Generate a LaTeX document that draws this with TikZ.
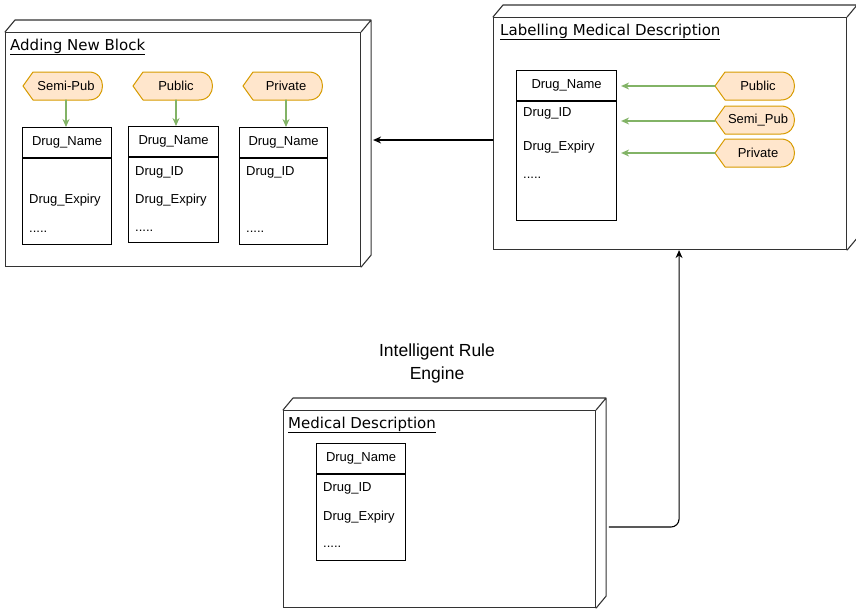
\documentclass[tikz,border=0pt]{standalone}
\usepackage{fontspec}
\usetikzlibrary{arrows.meta}
\setmainfont{Liberation Sans}
\newfontfamily\titlefont{DejaVu Sans}
\definecolor{tagfill}{HTML}{FFE6CC}
\definecolor{tagdraw}{HTML}{D79B00}
\definecolor{arrgreen}{HTML}{82B366}
\definecolor{boxgray}{HTML}{333333}
\tikzset{
  cubebox/.style={draw=boxgray,line width=1.1pt,anchor=north west,inner sep=0pt},
  boxline/.style={draw=boxgray,line width=1.1pt,line join=round},
  title/.style={anchor=west,inner sep=0pt,font=\titlefont\fontsize{15}{18}\selectfont},
  hdr/.style={draw,line width=1.1pt,anchor=north west,minimum height=30,inner sep=0pt,font=\fontsize{13}{15}\selectfont},
  tbody/.style={draw,line width=1.1pt,anchor=north west,inner sep=0pt},
  field/.style={anchor=west,inner sep=0pt,font=\fontsize{13}{15}\selectfont},
  tagline/.style={fill=tagfill,draw=tagdraw,line width=1pt,line join=round},
  tagtext/.style={inner sep=0pt,xshift=3,font=\fontsize{13}{15}\selectfont},
  greenarrow/.style={->,draw=arrgreen,line width=1.2pt},
  blackarrow/.style={->,draw=black,line width=1.1pt}
}
% 3d look of a box node
\newcommand\cubeside[1]{\draw[boxline] (#1.north west) -- ++(10,-12) -| ([shift={(10,-12)}]#1.south east) -- (#1.south east) (#1.north east) -- ++(10,-12);}
% name, centre, text
\newcommand\tagshape[3]{%
  \filldraw[tagline,shift={(#2)}] (-40,0) -- ++(10,-14) -- ++(56,0) .. controls +(18,0) and +(18,0) .. ++(0,28) -- ++(-56,0) -- cycle;
  \node[tagtext] (#1) at (#2) {#3};}
\begin{document}
\begin{tikzpicture}[x=1pt,y=-1pt,>={Stealth[length=8pt,width=7pt]},line cap=round]
\useasboundingbox (0,0) rectangle (856,610);

% adding new block
\node[cubebox,minimum width=355,minimum height=234] (addblock) at (5,32) {};
\cubeside{addblock}
\node[title] (addtitle) at (10,47) {\underline{Adding New Block}};

\tagshape{semipubA}{63,86}{Semi-Pub}
\tagshape{publicA}{173,86}{Public}
\tagshape{privateA}{283,86}{Private}

\node[hdr,minimum width=89] (nameA) at (22,127) {Drug\_Name};
\node[tbody,minimum width=89,minimum height=86] (bodyA) at (nameA.south west) {};
\node[field] at (29,200) {Drug\_Expiry};
\node[field] at (29,232) {.....};

\node[hdr,minimum width=90] (nameB) at (128,126) {Drug\_Name};
\node[tbody,minimum width=90,minimum height=85] (bodyB) at (nameB.south west) {};
\node[field] at (135,172) {Drug\_ID};
\node[field] at (135,200) {Drug\_Expiry};
\node[field] at (135,231) {.....};

\node[hdr,minimum width=88] (nameC) at (239,127) {Drug\_Name};
\node[tbody,minimum width=88,minimum height=86] (bodyC) at (nameC.south west) {};
\node[field] at (246,172) {Drug\_ID};
\node[field] at (246,232) {.....};

\draw[greenarrow] (semipubA.south |- 0,100) -- (semipubA.south |- nameA.north);
\draw[greenarrow] (publicA.south |- 0,100) -- (publicA.south |- nameB.north);
\draw[greenarrow] (privateA.south |- 0,100) -- (privateA.south |- nameC.north);

% labelling medical description
\node[cubebox,minimum width=353,minimum height=232] (labelbox) at (493,17) {};
\cubeside{labelbox}
\node[title] (labeltitle) at (500,32) {\underline{Labelling Medical Description}};

\node[hdr,minimum width=100] (nameL) at (516,70) {Drug\_Name};
\node[tbody,minimum width=100,minimum height=119] (bodyL) at (nameL.south west) {};
\node[field] at (523,113) {Drug\_ID};
\node[field] at (523,147) {Drug\_Expiry};
\node[field] at (523,178) {.....};

\tagshape{publicL}{755,86}{Public}
\tagshape{semipubL}{755,120}{Semi\_Pub}
\tagshape{privateL}{755,153}{Private}

\draw[greenarrow] (715,86) -- ([xshift=4]nameL.east |- 0,86);
\draw[greenarrow] (715,121) -- ([xshift=4]nameL.east |- 0,121);
\draw[greenarrow] (715,153) -- ([xshift=4]nameL.east |- 0,153);

% medical description
\node[cubebox,minimum width=312,minimum height=197] (medbox) at (283,410) {};
\cubeside{medbox}
\node[title] (medtitle) at (288,425) {\underline{Medical Description}};

\node[hdr,minimum width=89] (nameM) at (316,443) {Drug\_Name};
\node[tbody,minimum width=89,minimum height=86] (bodyM) at (nameM.south west) {};
\node[field] at (323,488) {Drug\_ID};
\node[field] at (323,517) {Drug\_Expiry};
\node[field] at (323,547) {.....};

\node[align=center,font=\fontsize{17.5}{23}\selectfont] (engine) at (437,363) {Intelligent Rule\\Engine};

% connectors
\draw[blackarrow] (labelbox.west |- 0,140) -- ([xshift=12]addblock.east |- 0,140);
\draw[blackarrow,rounded corners=8] ([xshift=13]medbox.east |- 0,527) -| ([xshift=9]labelbox.south);
\end{tikzpicture}
\end{document}
